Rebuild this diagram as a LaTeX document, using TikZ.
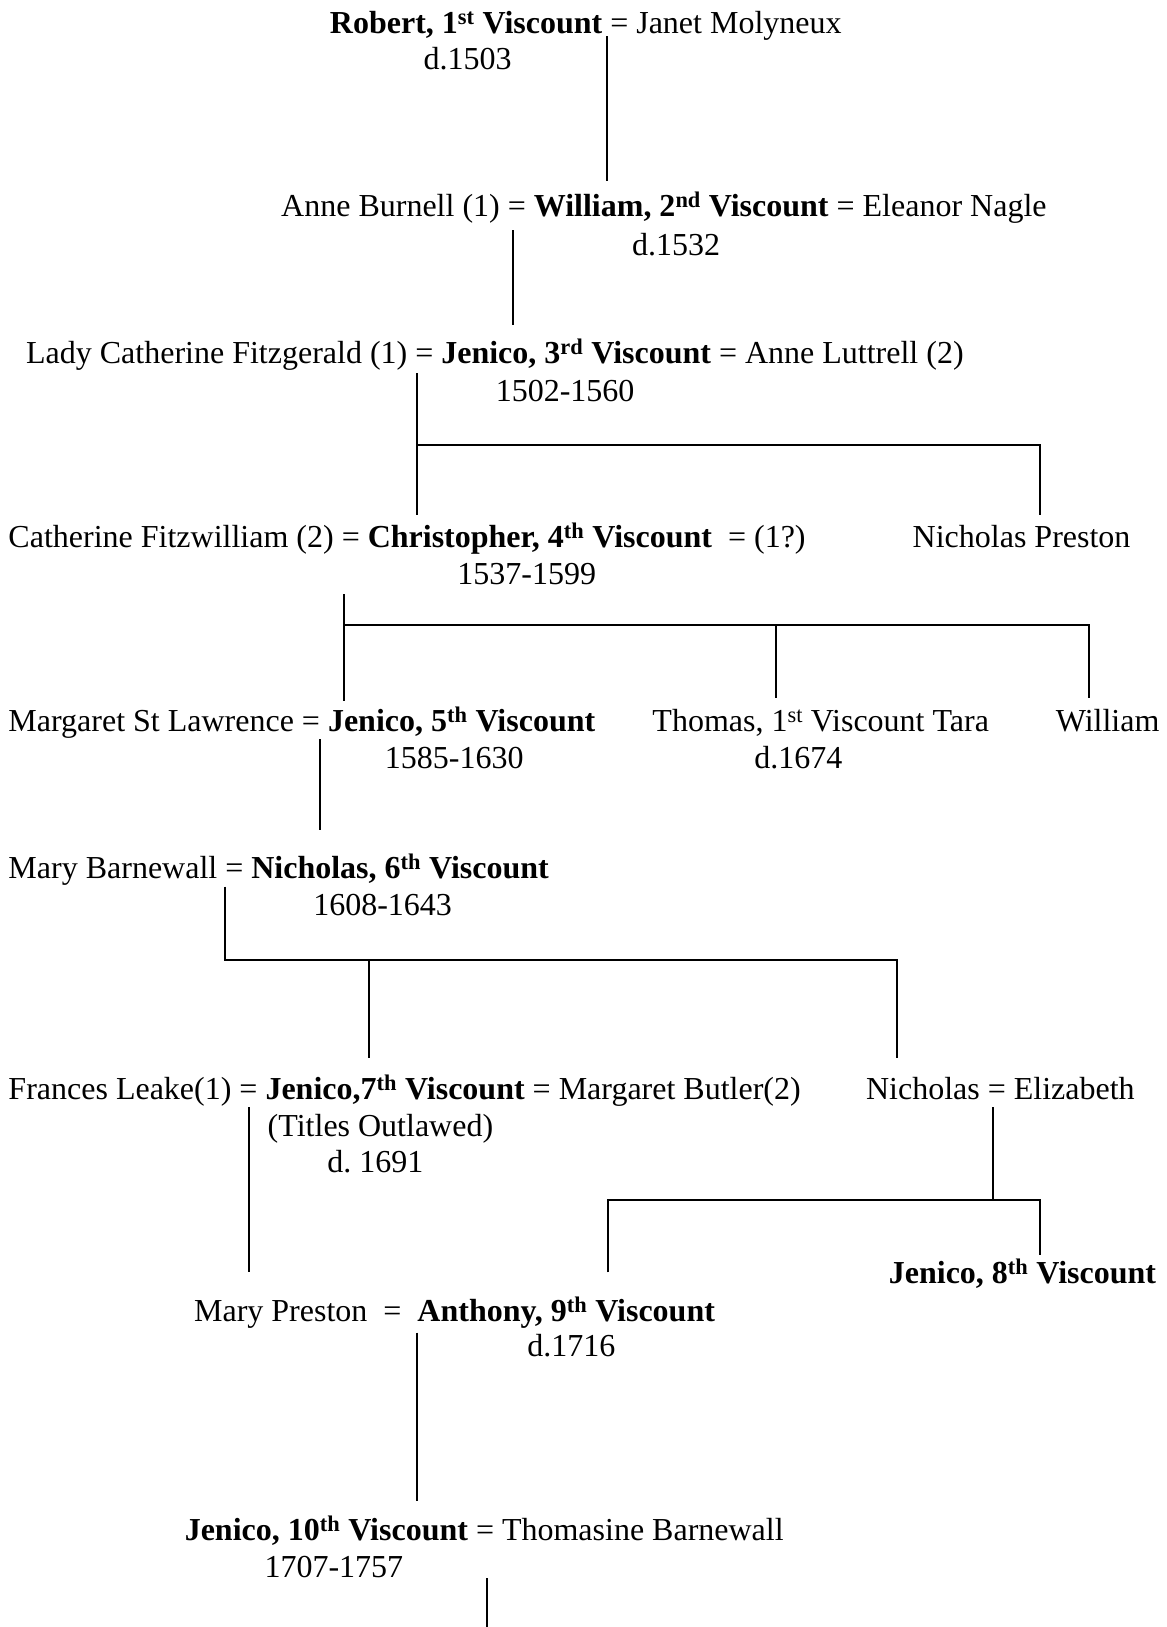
\documentclass[tikz,border=0pt]{standalone}
\usepackage{fontspec}
\setmainfont{Liberation Serif}
\frenchspacing
\begin{document}
\begin{tikzpicture}[x=1.037pt,y=-1.037pt,
  row/.style={anchor=base west, inner sep=0pt, font=\fontsize{32}{37}\selectfont},
  date/.style={anchor=base, inner sep=0pt, font=\fontsize{32}{37}\selectfont},
  link/.style={line width=2pt, line cap=butt}]
\useasboundingbox[fill=white] (0,0) rectangle (1125.4,1569);
% row 1
\node[row] (r1) at (318,32) {\textbf{Robert, 1\textsuperscript{st} Viscount} = Janet Molyneux};
\node[date] (r1d) at (451,67) {d.1503};
% row 2
\node[row] (r2) at (271,209) {Anne Burnell (1) = \textbf{William, 2\textsuperscript{nd} Viscount} = Eleanor Nagle};
\node[date] (r2d) at (652,246) {d.1532};
% row 3
\node[row] (r3) at (25,351) {Lady Catherine Fitzgerald (1) = \textbf{Jenico, 3\textsuperscript{rd} Viscount} = Anne Luttrell (2)};
\node[date] (r3d) at (545,387) {1502-1560};
% row 4
\node[row] (r4) at (8,528) {Catherine Fitzwilliam (2) = \textbf{Christopher, 4\textsuperscript{th} Viscount}\ \ = (1?)};
\node[row] (np) at (880,528) {Nicholas Preston};
\node[date] (r4d) at (508,564) {1537-1599};
% row 5
\node[row] (r5) at (8,705) {Margaret St Lawrence = \textbf{Jenico, 5\textsuperscript{th} Viscount}};
\node[row] (tt) at (629,705) {Thomas, 1\textsuperscript{st} Viscount Tara};
\node[row] (wm) at (1018,705) {William};
\node[date] (r5d) at (438,741) {1585-1630};
\node[date] (ttd) at (770,741) {d.1674};
% row 6
\node[row] (r6) at (8,847) {Mary Barnewall = \textbf{Nicholas, 6\textsuperscript{th} Viscount}};
\node[date] (r6d) at (369,883) {1608-1643};
% row 7
\node[row] (r7) at (8,1060) {Frances Leake(1) = \textbf{Jenico,7\textsuperscript{th} Viscount} = Margaret Butler(2)};
\node[row] (ne) at (835,1060) {Nicholas = Elizabeth};
\node[row] (r7t) at (258,1096) {(Titles Outlawed)};
\node[date] (r7d) at (362,1131) {d. 1691};
% row 8
\node[row] (j8) at (857,1238) {\textbf{Jenico, 8\textsuperscript{th} Viscount}};
\node[row] (r8) at (187,1274) {Mary Preston\ \ =\ \ \textbf{Anthony, 9\textsuperscript{th} Viscount}};
\node[date] (r8d) at (551,1308) {d.1716};
% row 9
\node[row] (r9) at (178,1486) {\textbf{Jenico, 10\textsuperscript{th} Viscount} = Thomasine Barnewall};
\node[date] (r9d) at (322,1521) {1707-1757};
% connector coordinates
\coordinate (a1) at (585,35);   \coordinate (a2) at (585,175);
\coordinate (b1) at (495,222);  \coordinate (b2) at (495,313);
\coordinate (c1) at (402,360);  \coordinate (c2) at (402,497);
\coordinate (cj) at (402,429);  \coordinate (cr) at (1003,429); \coordinate (cr2) at (1003,497);
\coordinate (d1) at (332,573);  \coordinate (d2) at (332,676);
\coordinate (dj) at (332,603);  \coordinate (dm) at (748,603); \coordinate (dm2) at (748,673);
\coordinate (dr) at (1050,603); \coordinate (dr2) at (1050,673);
\coordinate (e1) at (309,713);  \coordinate (e2) at (309,800);
\coordinate (f1) at (217,855);  \coordinate (fj) at (217,926);
\coordinate (fm) at (356,926);  \coordinate (fm2) at (356,1020);
\coordinate (fr) at (865,926);  \coordinate (fr2) at (865,1020);
\coordinate (g1) at (240,1068); \coordinate (g2) at (240,1227);
\coordinate (h1) at (958,1068); \coordinate (hj) at (958,1157);
\coordinate (hl) at (586,1157); \coordinate (hl2) at (586,1227);
\coordinate (hr) at (1003,1157); \coordinate (hr2) at (1003,1210);
\coordinate (i1) at (402,1285); \coordinate (i2) at (402,1447);
\coordinate (k1) at (470,1522); \coordinate (k2) at (470,1569);
% connectors
\draw[link] (a1) -- (a2);
\draw[link] (b1) -- (b2);
\draw[link] (c1) -- (c2);
\draw[link] (cj) -- (cr) -- (cr2);
\draw[link] (d1) -- (d2);
\draw[link] (dj) -- (dr) -- (dr2);
\draw[link] (dm) -- (dm2);
\draw[link] (e1) -- (e2);
\draw[link] (f1) -- (fj) -- (fr) -- (fr2);
\draw[link] (fm) -- (fm2);
\draw[link] (g1) -- (g2);
\draw[link] (h1) -- (hj);
\draw[link] (hl2) -- (hl) -- (hr) -- (hr2);
\draw[link] (i1) -- (i2);
\draw[link] (k1) -- (k2);
\end{tikzpicture}
\end{document}
